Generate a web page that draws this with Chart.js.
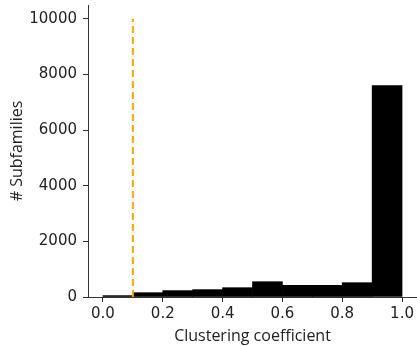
<!DOCTYPE html>
<html lang="en">
<head>
    <meta charset="UTF-8">
    <title>Clustering coefficient histogram</title>
    <script src="https://cdn.jsdelivr.net/npm/chart.js"></script>
    <style type="text/css">
        body {
            margin: 0;
            background: #fff;
        }
    </style>
</head>
<body>
<canvas id="myChart" width="417" height="346"></canvas>

<script>
  // histogram bins (centres) and counts
  var binCenters = [0.05, 0.15, 0.25, 0.35, 0.45, 0.55, 0.65, 0.75, 0.85, 0.95];
  var counts = [50, 155, 230, 265, 335, 550, 420, 420, 515, 7600];

  // threshold marker
  var thresholdX = [0.1, 0.1];
  var thresholdY = [0, 10000];

  var xTicks = [0, 0.2, 0.4, 0.6, 0.8, 1.0];
  var yTicks = [0, 2000, 4000, 6000, 8000, 10000];

  var tickFont = {family: '"DejaVu Sans", sans-serif', size: 15};
  var titleFont = {family: '"Open Sans", sans-serif', size: 16};
  var axisColor = '#333';
  var textColor = '#222';

  var bars = binCenters.map(function (x, i) { return {x: x, y: counts[i]}; });
  var line = thresholdX.map(function (x, i) { return {x: x, y: thresholdY[i]}; });

  var ctx = document.getElementById('myChart').getContext('2d');

  var myChart = new Chart(ctx, {
    type: 'bar',
    data: {
      datasets: [{
        type: 'line',
        data: line,
        borderColor: '#FFA500',
        borderWidth: 2,
        borderDash: [7, 4],
        pointRadius: 0,
        fill: false,
        order: 0
      }, {
        data: bars,
        backgroundColor: '#000',
        borderWidth: 0,
        barPercentage: 1,
        categoryPercentage: 1,
        order: 1
      }]
    },
    options: {
      responsive: false,
      animation: false,
      layout: {
        padding: {top: 5, right: 0, left: 0, bottom: 0}
      },
      plugins: {
        legend: {display: false},
        tooltip: {enabled: false}
      },
      scales: {
        x: {
          type: 'linear',
          offset: false,
          min: -0.05,
          max: 1.05,
          afterBuildTicks: function (s) {
            s.ticks = xTicks.map(function (v) { return {value: v}; });
          },
          afterFit: function (s) { s.height = 49; },
          grid: {offset: false, drawOnChartArea: false, drawTicks: true, tickLength: 5, color: axisColor},
          border: {display: true, color: axisColor, width: 1},
          ticks: {
            color: textColor,
            font: tickFont,
            padding: 3,
            maxRotation: 0,
            callback: function (v) { return Number(v).toFixed(1); }
          },
          title: {
            display: true,
            text: 'Clustering coefficient',
            color: textColor,
            font: titleFont,
            padding: {top: 4, bottom: 0}
          }
        },
        y: {
          min: 0,
          max: 10500,
          afterBuildTicks: function (s) {
            s.ticks = yTicks.map(function (v) { return {value: v}; });
          },
          afterFit: function (s) {
            s.width = 88;
            s.paddingTop = 0;
            s.paddingBottom = 0;
          },
          grid: {drawOnChartArea: false, drawTicks: true, tickLength: 5, color: axisColor},
          border: {display: true, color: axisColor, width: 1},
          ticks: {
            color: textColor,
            font: tickFont,
            padding: 6,
            callback: function (v) { return String(v); }
          },
          title: {
            display: true,
            text: '# Subfamilies',
            color: textColor,
            font: titleFont,
            padding: {top: 8, bottom: 0}
          }
        }
      }
    }
  });
</script>
</body>
</html>
